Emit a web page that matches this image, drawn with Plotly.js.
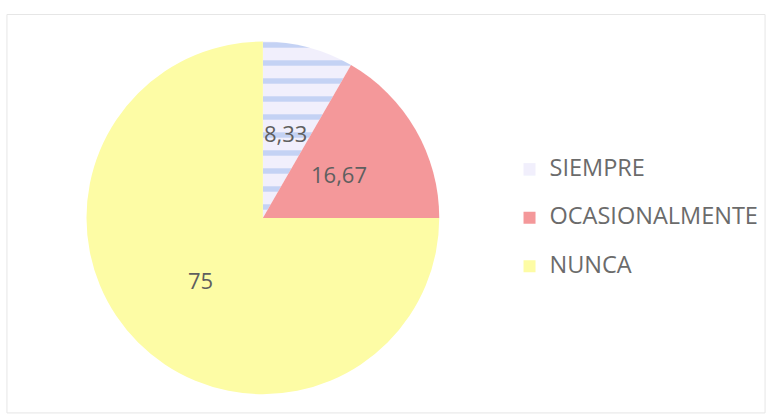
<!DOCTYPE html>
<html>
<head>
<meta charset="utf-8">
<script src="https://cdn.plot.ly/plotly-3.0.1.min.js"></script>
<style>
  html, body { margin: 0; padding: 0; background: #fff; }
  #chart { width: 772px; height: 415px; }
</style>
</head>
<body>
<div id="chart"></div>
<script>
// Respuestas (porcentaje)
const categories = ['SIEMPRE', 'OCASIONALMENTE', 'NUNCA'];
const percentages = [8.33, 16.67, 75];
const sliceColors = ['#f1effc', '#f4989a', '#fdfca5'];

// etiquetas con coma decimal
const valueLabels = percentages.map(v => String(v).replace('.', ','));

// texto de leyenda más pequeño que la altura de línea (para separar las entradas)
const legendLabels = categories.map(c =>
  `<span style="font-size:23.5px;baseline-shift:7px">${c}</span>`);

const W = 772, H = 415;
const pieDomain = { x: [0.110, 0.571], y: [0.050, 0.900] };

// etiquetas de datos a media distancia del radio, como en Excel
function dataLabelAnnotations() {
  const cx = (pieDomain.x[0] + pieDomain.x[1]) / 2;
  const cy = (pieDomain.y[0] + pieDomain.y[1]) / 2;
  const r = Math.min((pieDomain.x[1] - pieDomain.x[0]) * W, (pieDomain.y[1] - pieDomain.y[0]) * H) / 2;
  const total = percentages.reduce((a, b) => a + b, 0);
  let acc = 0;
  return percentages.map((v, i) => {
    const mid = (acc + v / 2) / total * 2 * Math.PI;
    acc += v;
    return {
      xref: 'paper', yref: 'paper',
      x: cx + 0.5 * r * Math.sin(mid) / W,
      y: cy + 0.5 * r * Math.cos(mid) / H,
      xanchor: 'center',
      yanchor: 'middle',
      text: valueLabels[i],
      showarrow: false,
      font: { family: 'Open Sans, sans-serif', size: 22, color: '#5f5f5f' }
    };
  });
}

const trace = {
  type: 'pie',
  labels: legendLabels,
  values: percentages,
  textinfo: 'none',
  sort: false,
  direction: 'clockwise',
  rotation: 0,
  hoverinfo: 'skip',
  marker: {
    colors: sliceColors,
    line: { width: 0 },
    pattern: {
      shape: ['-', '', ''],
      fgcolor: '#c4d2f4',
      bgcolor: sliceColors,
      size: 18,
      solidity: 0.3
    }
  },
  domain: pieDomain
};

const layout = {
  width: W,
  height: H,
  margin: { l: 0, r: 0, t: 0, b: 0 },
  paper_bgcolor: '#ffffff',
  showlegend: true,
  legend: {
    x: 0.66,
    xanchor: 'left',
    y: 0.475,
    yanchor: 'middle',
    font: { family: 'Open Sans, sans-serif', size: 35, color: '#6b6b6b' },
    bgcolor: 'rgba(0,0,0,0)'
  },
  annotations: dataLabelAnnotations(),
  shapes: [
    {
      type: 'rect', xref: 'paper', yref: 'paper',
      x0: 0.009, x1: 0.991, y0: 0.005, y1: 0.965,
      line: { color: '#e6e6e6', width: 1 }
    }
  ]
};

Plotly.newPlot('chart', [trace], layout, { displayModeBar: false, staticPlot: true });
</script>
</body>
</html>
